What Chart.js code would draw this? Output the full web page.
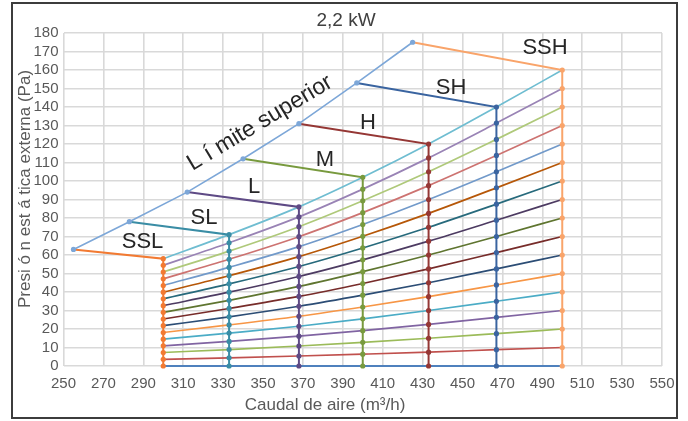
<!DOCTYPE html>
<html><head><meta charset="utf-8">
<script src="https://cdn.jsdelivr.net/npm/chart.js@4/dist/chart.umd.min.js"></script>
<style>html,body{margin:0;padding:0;background:#fff}#wrap{width:688px;height:421px;position:relative}</style>
</head><body><div id="wrap"><canvas id="c" width="688" height="421"></canvas></div>
<script>
// ---- data ----
const modes = ['SSL', 'SL', 'L', 'M', 'H', 'SH', 'SSH'];
const modeFlow = [300, 333, 368, 400, 433, 467, 500];
const limitFlow = [255, 283, 312, 340, 368, 397, 425];
const limitPressure = [63, 78, 94, 112, 131, 153, 175];
// pressure of each system curve at each mode flow (SSL..SSH)
const curve0  = [0, 0, 0, 0, 0, 0, 0];
const curve1  = [3.6, 4.4, 5.4, 6.4, 7.5, 8.8, 10];
const curve2  = [7.3, 8.9, 10.8, 12.8, 15, 17.5, 20];
const curve3  = [10.9, 13.3, 16.1, 19.1, 22.5, 26.3, 30];
const curve4  = [14.5, 17.8, 21.5, 25.5, 30, 35, 40];
const curve5  = [18.1, 22.2, 26.9, 31.9, 37.5, 43.8, 50];
const curve6  = [21.8, 26.6, 32.3, 38.3, 45, 52.5, 60];
const curve7  = [25.4, 31.1, 37.6, 44.6, 52.5, 61.3, 70];
const curve8  = [29, 35.5, 43, 51, 60, 70, 80];
const curve9  = [32.6, 39.9, 48.4, 57.4, 67.5, 78.8, 90];
const curve10 = [36.3, 44.4, 53.8, 63.8, 75, 87.5, 100];
const curve11 = [39.9, 48.8, 59.1, 70.1, 82.5, 96.3, 110];
const curve12 = [43.5, 53.3, 64.5, 76.5, 90, 105, 120];
const curve13 = [47.1, 57.7, 69.9, 82.9, 97.5, 113.8, 130];
const curve14 = [50.8, 62.1, 75.3, 89.3, 105, 122.5, 140];
const curve15 = [54.4, 66.6, 80.6, 95.6, 112.5, 131.3, 150];
const curve16 = [58, 71, 86, 102, 120, 140, 160];
const curves = [curve0, curve1, curve2, curve3, curve4, curve5, curve6, curve7, curve8,
  curve9, curve10, curve11, curve12, curve13, curve14, curve15, curve16];
const xTicks = [250, 270, 290, 310, 330, 350, 370, 390, 410, 430, 450, 470, 490, 510, 530, 550];
const yTicks = [0, 10, 20, 30, 40, 50, 60, 70, 80, 90, 100, 110, 120, 130, 140, 150, 160, 170, 180];
const titleText = '2,2 kW';
const limitLabel = 'L í mite superior';
const xTitle = 'Caudal de aire (m³/h)';
const yTitle = 'Presi ó n est á tica externa (Pa)';

// ---- styles ----
const curveColors = ['#4f81bd', '#c0504d', '#9bbb59', '#8064a2', '#4bacc6', '#f79646',
  '#2c4d75', '#772c2a', '#5f7530', '#4d3b62', '#276a7c', '#b65708',
  '#729aca', '#cd7371', '#afc97a', '#9983b5', '#6fbdd1'];
const modeColors = ['#f27a32', '#3a8da5', '#5e4a85', '#789a3e', '#953735', '#3a64a0', '#f9a46a'];
const limitColor = '#7da7d8';
const FONT = "'Liberation Sans', Arial, sans-serif";

const datasets = [];
datasets.push({
  data: limitFlow.map((x, i) => ({x, y: limitPressure[i]})),
  borderColor: limitColor, backgroundColor: limitColor, borderWidth: 1.6,
  pointRadius: 2.6, pointBorderWidth: 0, showLine: true, tension: 0, clip: 6
});
modes.forEach((m, k) => {
  const pts = [{x: limitFlow[k], y: limitPressure[k]}];
  for (let i = curves.length - 1; i >= 0; i--) pts.push({x: modeFlow[k], y: curves[i][k]});
  datasets.push({
    data: pts, borderColor: modeColors[k], backgroundColor: modeColors[k], borderWidth: 2,
    pointRadius: pts.map((p, j) => j === 0 ? 0 : 2.6), pointBorderWidth: 0,
    showLine: true, tension: 0, clip: 6
  });
});
curves.forEach((c, i) => {
  datasets.push({
    data: modeFlow.map((x, k) => ({x, y: c[k]})),
    borderColor: curveColors[i], backgroundColor: curveColors[i], borderWidth: i === 0 ? 2.2 : 1.7,
    pointRadius: 0, showLine: true, cubicInterpolationMode: 'monotone', clip: 6
  });
});

const textPlugin = {
  id: 'texts',
  afterDraw(chart) {
    const ctx = chart.ctx;
    ctx.save();
    ctx.strokeStyle = '#3c3c3c'; ctx.lineWidth = 2;
    ctx.strokeRect(12, 3, 665, 415);
    ctx.textAlign = 'center'; ctx.textBaseline = 'middle';
    ctx.fillStyle = '#404040';
    ctx.font = '19px ' + FONT;
    ctx.fillText(titleText, 346, 21);
    ctx.fillStyle = '#595959';
    ctx.font = '17px ' + FONT;
    ctx.fillText(xTitle, 325, 405);
    ctx.save(); ctx.translate(25, 189); ctx.rotate(-Math.PI / 2);
    ctx.fillText(yTitle, 0, 0); ctx.restore();
    ctx.fillStyle = '#262626';
    ctx.font = '22px ' + FONT;
    const lp = [[142.5, 241.5], [204, 218], [254, 187], [325, 160], [368, 122.5], [451, 87.5], [545, 48]];
    modes.forEach((m, k) => ctx.fillText(m, lp[k][0], lp[k][1]));
    ctx.font = '23px ' + FONT;
    ctx.save(); ctx.translate(260, 123); ctx.rotate(-31 * Math.PI / 180);
    ctx.fillText(limitLabel, 0, 0); ctx.restore();
    ctx.restore();
  }
};

new Chart(document.getElementById('c'), {
  type: 'scatter',
  data: {datasets},
  options: {
    responsive: false, animation: false, devicePixelRatio: 1,
    layout: {padding: {left: 0, right: 26, top: 33, bottom: 0}},
    plugins: {legend: {display: false}, tooltip: {enabled: false}},
    scales: {
      x: {
        type: 'linear', min: xTicks[0], max: xTicks[xTicks.length - 1],
        afterBuildTicks: s => { s.ticks = xTicks.map(v => ({value: v})); },
        afterFit: s => { s.height = 55; },
        grid: {color: '#d9d9d9', lineWidth: 1.6, drawTicks: false},
        border: {display: false},
        ticks: {color: '#595959', font: {family: FONT, size: 15}, padding: 9, maxRotation: 0, autoSkip: false}
      },
      y: {
        type: 'linear', min: yTicks[0], max: yTicks[yTicks.length - 1],
        afterBuildTicks: s => { s.ticks = yTicks.map(v => ({value: v})); },
        afterFit: s => { s.width = 63.5; },
        grid: {color: '#d9d9d9', lineWidth: 1.6, drawTicks: false},
        border: {display: false},
        ticks: {color: '#595959', font: {family: FONT, size: 15}, padding: 5, autoSkip: false}
      }
    }
  },
  plugins: [textPlugin]
});
</script></body></html>
